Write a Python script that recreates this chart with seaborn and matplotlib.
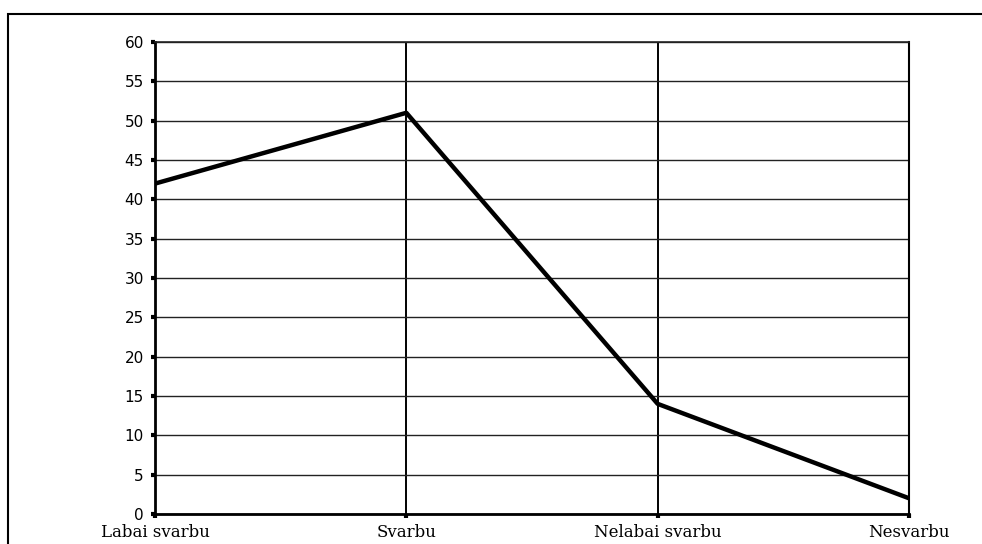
import matplotlib
matplotlib.use("Agg")
import matplotlib.pyplot as plt
from matplotlib.patches import Rectangle
import seaborn as sns
import pandas as pd

categories = ["Labai svarbu", "Svarbu", "Nelabai svarbu", "Nesvarbu"]
values = [42, 51, 14, 2]
y_ticks = list(range(0, 61, 5))

sns.set_theme(style="white")
plt.rcParams["font.family"] = ["DejaVu Sans"]

df = pd.DataFrame({"category": categories, "value": values})

fig = plt.figure(figsize=(9.82, 5.44), dpi=100)
ax = fig.add_axes([155 / 982, 30 / 544, (909 - 155) / 982, (514 - 42) / 544])

# outer frame around the whole chart
fig.patches.append(Rectangle((8 / 982, -0.2), 1.2, 1.2 - 14 / 544,
                             transform=fig.transFigure, fill=False,
                             edgecolor="black", linewidth=1.5, zorder=0))

sns.lineplot(data=df, x="category", y="value", sort=False, color="black",
             linewidth=3.2, ax=ax, zorder=5)

ax.set_xlim(0, len(categories) - 1)
ax.set_ylim(0, 60)
ax.set_yticks(y_ticks)
ax.set_yticklabels([str(t) for t in y_ticks], fontsize=11, color="black")
ax.set_xticks(range(len(categories)))
ax.set_xticklabels(categories, fontsize=12, family=["DejaVu Serif"], color="black")
ax.set_xlabel("")
ax.set_ylabel("")

ax.grid(axis="y", color="#222222", linewidth=1.0)
ax.grid(axis="x", color="black", linewidth=1.4)
ax.set_axisbelow(True)

for side in ["left", "bottom"]:
    ax.spines[side].set_color("black")
    ax.spines[side].set_linewidth(2.0)
ax.spines["top"].set_color("#222222")
ax.spines["top"].set_linewidth(1.2)
ax.spines["right"].set_color("black")
ax.spines["right"].set_linewidth(1.5)

# small square tick marks just outside the axes
ax.tick_params(axis="y", left=True, direction="out", length=3, width=3,
               color="black", pad=5)
ax.tick_params(axis="x", bottom=True, direction="out", length=3, width=3,
               color="black", pad=4)

fig.savefig("out.png", dpi=100, facecolor="white")
